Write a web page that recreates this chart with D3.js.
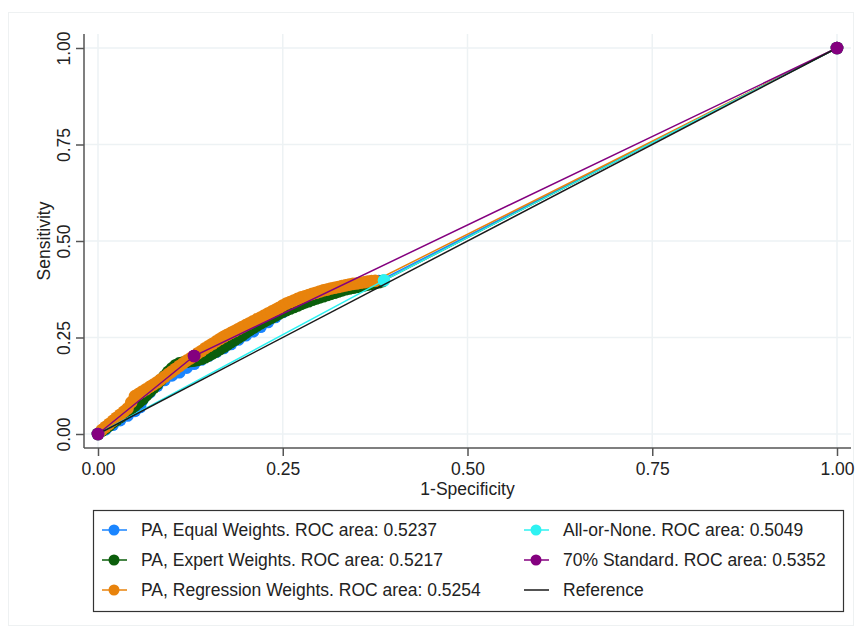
<!DOCTYPE html>
<html>
<head>
<meta charset="utf-8">
<script src="https://cdn.jsdelivr.net/npm/d3@7"></script>
<style>
  body { margin: 0; background: #fff; }
  text { font-family: "Liberation Sans", Arial, sans-serif; fill: #222; }
</style>
</head>
<body>
<div id="chart"></div>
<script>
/* ROC curves */

const ticks = [0, 0.25, 0.5, 0.75, 1];

const equalX = [0, 0.01, 0.02, 0.03, 0.04, 0.05, 0.057, 0.06, 0.07, 0.08, 0.09, 0.10, 0.11, 0.12, 0.13, 0.14, 0.15, 0.16, 0.17, 0.18, 0.19, 0.20, 0.21, 0.22, 0.23, 0.24, 0.25, 0.26, 0.27, 0.28, 0.29, 0.30, 0.31, 0.32, 0.33, 0.34, 0.35, 0.36, 0.37, 0.38, 1];
const equalY = [0, 0.012, 0.024, 0.036, 0.048, 0.06, 0.07, 0.088, 0.108, 0.125, 0.14, 0.152, 0.16, 0.172, 0.182, 0.193, 0.203, 0.213, 0.223, 0.233, 0.245, 0.256, 0.266, 0.278, 0.29, 0.303, 0.316, 0.328, 0.34, 0.352, 0.362, 0.368, 0.373, 0.377, 0.381, 0.384, 0.387, 0.39, 0.393, 0.396, 1];

const expertX = [0, 0.005, 0.01, 0.015, 0.02, 0.025, 0.03, 0.035, 0.04, 0.045, 0.05, 0.055, 0.06, 0.065, 0.07, 0.075, 0.08, 0.085, 0.09, 0.095, 0.10, 0.105, 0.11, 0.115, 0.12, 0.125, 0.13, 0.135, 0.14, 0.145, 0.15, 0.155, 0.16, 0.165, 0.17, 0.175, 0.18, 0.185, 0.19, 0.195, 0.20, 0.205, 0.21, 0.215, 0.22, 0.225, 0.23, 0.235, 0.24, 0.245, 0.25, 0.255, 0.26, 0.265, 0.27, 0.275, 0.28, 0.285, 0.29, 0.295, 0.30, 0.305, 0.31, 0.315, 0.32, 0.325, 0.33, 0.335, 0.34, 0.345, 0.35, 0.355, 0.36, 0.365, 0.37, 0.375, 0.38, 0.385, 1];
const expertY = [0, 0.008, 0.015, 0.022, 0.03, 0.037, 0.044, 0.051, 0.058, 0.066, 0.074, 0.082, 0.09, 0.1, 0.11, 0.12, 0.13, 0.14, 0.15, 0.161, 0.17, 0.178, 0.183, 0.185, 0.187, 0.189, 0.19, 0.192, 0.195, 0.199, 0.204, 0.209, 0.214, 0.22, 0.226, 0.232, 0.238, 0.244, 0.25, 0.256, 0.263, 0.269, 0.275, 0.281, 0.287, 0.292, 0.297, 0.302, 0.307, 0.312, 0.317, 0.321, 0.325, 0.329, 0.333, 0.337, 0.341, 0.344, 0.348, 0.351, 0.354, 0.357, 0.36, 0.363, 0.366, 0.369, 0.372, 0.375, 0.377, 0.379, 0.381, 0.383, 0.385, 0.387, 0.389, 0.391, 0.393, 0.396, 1];

const regrX = [0, 0.005, 0.01, 0.015, 0.02, 0.025, 0.03, 0.035, 0.04, 0.045, 0.05, 0.055, 0.06, 0.065, 0.07, 0.075, 0.08, 0.085, 0.09, 0.095, 0.10, 0.105, 0.11, 0.115, 0.12, 0.125, 0.13, 0.135, 0.14, 0.145, 0.15, 0.155, 0.16, 0.165, 0.17, 0.175, 0.18, 0.185, 0.19, 0.195, 0.20, 0.205, 0.21, 0.215, 0.22, 0.225, 0.23, 0.235, 0.24, 0.245, 0.25, 0.255, 0.26, 0.265, 0.27, 0.275, 0.28, 0.285, 0.29, 0.295, 0.30, 0.305, 0.31, 0.315, 0.32, 0.325, 0.33, 0.335, 0.34, 0.345, 0.35, 0.355, 0.36, 0.365, 0.37, 0.375, 1];
const regrY = [0, 0.01, 0.018, 0.026, 0.034, 0.042, 0.05, 0.058, 0.066, 0.082, 0.098, 0.104, 0.11, 0.116, 0.122, 0.128, 0.134, 0.141, 0.148, 0.155, 0.162, 0.169, 0.176, 0.183, 0.19, 0.196, 0.202, 0.209, 0.215, 0.222, 0.228, 0.234, 0.24, 0.246, 0.252, 0.257, 0.262, 0.267, 0.272, 0.277, 0.282, 0.287, 0.292, 0.297, 0.302, 0.307, 0.312, 0.317, 0.322, 0.327, 0.333, 0.338, 0.342, 0.346, 0.35, 0.354, 0.357, 0.36, 0.363, 0.366, 0.369, 0.372, 0.374, 0.377, 0.379, 0.381, 0.383, 0.385, 0.387, 0.389, 0.39, 0.392, 0.393, 0.395, 0.396, 0.397, 1];

const allNoneX = [0, 0.387, 1];
const allNoneY = [0, 0.398, 1];

const stdX = [0, 0.13, 1];
const stdY = [0, 0.202, 1];

const refX = [0, 1];
const refY = [0, 1];

const labels = [
  "PA, Equal Weights. ROC area: 0.5237",
  "PA, Expert Weights. ROC area: 0.5217",
  "PA, Regression Weights. ROC area: 0.5254",
  "All-or-None. ROC area: 0.5049",
  "70% Standard. ROC area: 0.5352",
  "Reference"
];
const colors = ["#1a85ff", "#0b5e0b", "#e8830c", "#2ef2f2", "#84007f", "#1a1a1a"];

const width = 861, height = 633;
const frame = { left: 84, right: 851, top: 34, bottom: 448 };

const svg = d3.select("#chart").append("svg")
  .attr("width", width)
  .attr("height", height);

// faint outer border
svg.append("rect")
  .attr("x", 8.5).attr("y", 12.5)
  .attr("width", 845).attr("height", 613)
  .attr("fill", "none").attr("stroke", "#eef1f2");

const x = d3.scaleLinear().domain([0, 1]).range([98, 837]);
const y = d3.scaleLinear().domain([0, 1]).range([434, 48]);

// grid
svg.append("g").selectAll("line").data(ticks).join("line")
  .attr("x1", d => x(d)).attr("x2", d => x(d))
  .attr("y1", frame.top).attr("y2", frame.bottom)
  .attr("stroke", "#edf2f4").attr("stroke-width", 1.5);
svg.append("g").selectAll("line").data(ticks).join("line")
  .attr("y1", d => y(d)).attr("y2", d => y(d))
  .attr("x1", frame.left).attr("x2", frame.right)
  .attr("stroke", "#edf2f4").attr("stroke-width", 1.5);

// axes
const xAxis = g => g
  .attr("transform", `translate(0,${frame.bottom})`)
  .call(d3.axisBottom(x).tickValues(ticks).tickFormat(d3.format(".2f")).tickSize(8).tickPadding(7))
  .call(g => g.select(".domain").remove());

const yAxis = g => g
  .attr("transform", `translate(${frame.left},0)`)
  .call(d3.axisLeft(y).tickValues(ticks).tickFormat(d3.format(".2f")).tickSize(8))
  .call(g => g.select(".domain").remove());

const gx = svg.append("g").call(xAxis);
const gy = svg.append("g").call(yAxis);

[gx, gy].forEach(g => {
  g.selectAll("line").attr("stroke", "#555").attr("stroke-width", 1.5);
  g.selectAll("text").attr("font-size", 17.5).attr("font-family", null).attr("fill", "#222");
});
gy.selectAll("text")
  .attr("x", null).attr("dy", null)
  .attr("text-anchor", "middle")
  .attr("transform", "translate(-14,0) rotate(-90)");

svg.append("line")
  .attr("x1", frame.left).attr("x2", frame.left)
  .attr("y1", frame.top).attr("y2", frame.bottom)
  .attr("stroke", "#555").attr("stroke-width", 1.5);
svg.append("line")
  .attr("x1", frame.left).attr("x2", frame.right)
  .attr("y1", frame.bottom).attr("y2", frame.bottom)
  .attr("stroke", "#555").attr("stroke-width", 1.5);

svg.append("text")
  .attr("transform", `translate(50,${y(0.5)}) rotate(-90)`)
  .attr("text-anchor", "middle")
  .attr("font-size", 17.5)
  .text("Sensitivity");

svg.append("text")
  .attr("x", x(0.5)).attr("y", 495)
  .attr("text-anchor", "middle")
  .attr("font-size", 17.5)
  .text("1-Specificity");

// curves
const series = [
  { xs: equalX, ys: equalY, c: colors[0] },
  { xs: expertX, ys: expertY, c: colors[1] },
  { xs: regrX, ys: regrY, c: colors[2] },
  { xs: allNoneX, ys: allNoneY, c: colors[3] },
  { xs: stdX, ys: stdY, c: colors[4] }
];

const line = d3.line().x(d => x(d[0])).y(d => y(d[1]));

series.forEach(s => {
  const pts = s.xs.map((v, i) => [v, s.ys[i]]);
  svg.append("path")
    .attr("d", line(pts))
    .attr("fill", "none")
    .attr("stroke", s.c)
    .attr("stroke-width", 1.5);
  svg.append("g").selectAll("circle").data(pts).join("circle")
    .attr("cx", d => x(d[0]))
    .attr("cy", d => y(d[1]))
    .attr("r", 6.3)
    .attr("fill", s.c);
});

svg.append("path")
  .attr("d", line(refX.map((v, i) => [v, refY[i]])))
  .attr("fill", "none")
  .attr("stroke", colors[5])
  .attr("stroke-width", 1.5);

// purple markers drawn again on top
svg.append("g").selectAll("circle").data(stdX.map((v, i) => [v, stdY[i]])).join("circle")
  .attr("cx", d => x(d[0]))
  .attr("cy", d => y(d[1]))
  .attr("r", 6.3)
  .attr("fill", colors[4]);

// legend
svg.append("rect")
  .attr("x", 93.5).attr("y", 510.5)
  .attr("width", 750).attr("height", 101)
  .attr("fill", "#fff").attr("stroke", "#333").attr("stroke-width", 1.2);

const legX = [114, 536];
const legY = [530, 560, 590];

const leg = svg.append("g").selectAll("g").data(labels).join("g")
  .attr("transform", (d, i) => `translate(${legX[Math.floor(i / 3)]},${legY[i % 3]})`);

leg.append("line")
  .attr("x1", -12).attr("x2", 13)
  .attr("stroke", (d, i) => colors[i])
  .attr("stroke-width", 1.5);

leg.filter((d, i) => i < 5).append("circle")
  .attr("r", 5.5)
  .attr("fill", (d, i) => colors[i]);

leg.append("text")
  .attr("x", 27)
  .attr("dy", "0.35em")
  .attr("font-size", 17.5)
  .text(d => d);
</script>
</body>
</html>
